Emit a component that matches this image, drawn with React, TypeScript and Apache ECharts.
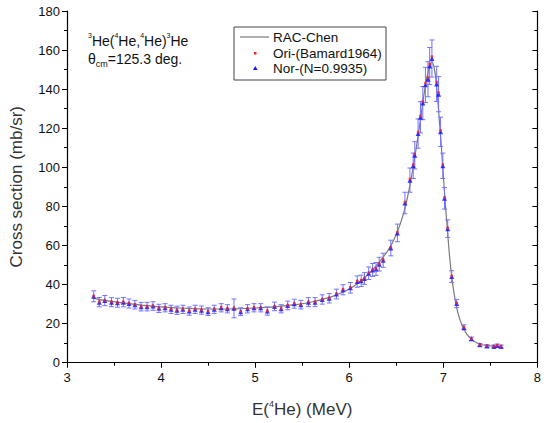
import React, { useEffect, useRef } from "react";
import * as echarts from "echarts";

// Measured points (E in MeV, cross section in mb/sr)
const energy = [
  3.284, 3.343, 3.402, 3.473, 3.536, 3.599, 3.659, 3.722, 3.788, 3.851,
  3.914, 3.977, 4.043, 4.106, 4.169, 4.232, 4.299, 4.362, 4.429, 4.499,
  4.565, 4.639, 4.705, 4.775, 4.846, 4.919, 4.988, 5.059, 5.129, 5.206,
  5.276, 5.346, 5.416, 5.486, 5.566, 5.637, 5.713, 5.787, 5.864, 5.934,
  6.012, 6.085, 6.127, 6.162, 6.207, 6.249, 6.285, 6.319, 6.361, 6.442,
  6.512, 6.592, 6.645, 6.68, 6.697, 6.732, 6.757, 6.782, 6.81, 6.837,
  6.855, 6.879, 6.929, 6.95, 6.971, 6.995, 7.013, 7.047, 7.089, 7.142,
  7.219, 7.299, 7.388, 7.464, 7.538, 7.573, 7.614,
];
const oriValues = [
  34.1, 31.1, 31.9, 31.1, 30.8, 31.1, 30.4, 29.8, 28.8, 28.8,
  29.1, 27.9, 28.2, 27.4, 26.9, 27.4, 26.5, 27.4, 27.0, 26.2,
  27.4, 28.2, 27.7, 27.9, 26.2, 27.7, 28.2, 28.2, 26.5, 28.9,
  27.7, 29.4, 30.3, 29.8, 31.1, 31.1, 32.5, 33.1, 35.3, 37.5,
  38.5, 41.7, 42.1, 43.3, 46.0, 47.7, 48.2, 50.7, 52.7, 59.0,
  66.8, 82.2, 94.0, 101.4, 106.8, 118.0, 126.4, 133.7, 143.1, 146.0,
  152.8, 156.7, 143.6, 138.3, 118.9, 101.4, 84.6, 69.0, 44.3, 30.4,
  18.1, 12.2, 9.1, 8.5, 8.3, 8.8, 8.3,
];
const errValues = [
  2.8, 2.4, 2.6, 2.3, 2.3, 2.4, 2.3, 2.2, 2.2, 2.2,
  2.2, 2.1, 2.1, 2.1, 2.1, 2.1, 2.1, 2.1, 2.1, 2.0,
  2.1, 2.1, 2.1, 4.8, 2.0, 2.1, 2.1, 2.1, 2.1, 2.2,
  2.1, 2.2, 2.3, 2.2, 2.3, 2.3, 2.4, 2.4, 2.5, 2.6,
  2.7, 2.9, 2.9, 3.0, 3.2, 3.3, 3.3, 3.5, 3.6, 4.0,
  4.5, 5.5, 6.2, 6.5, 7.0, 7.5, 8.0, 8.5, 9.0, 9.0,
  9.5, 9.5, 9.0, 9.0, 7.5, 6.5, 5.5, 4.5, 3.0, 2.1,
  1.3, 0.9, 0.7, 0.7, 0.7, 0.7, 0.7,
];
const normFactor = 0.9935;

// RAC-Chen calculation
const curveEnergy = [
  3.28, 3.4, 3.6, 3.8, 4.0, 4.2, 4.4, 4.6, 4.8, 5.0, 5.2, 5.4, 5.6, 5.8, 5.9,
  6.0, 6.1, 6.2, 6.3, 6.4, 6.45, 6.5, 6.55, 6.6, 6.65, 6.7, 6.75, 6.8, 6.83,
  6.86, 6.88, 6.9, 6.92, 6.94, 6.96, 6.98, 7.0, 7.02, 7.04, 7.06, 7.08, 7.1,
  7.13, 7.16, 7.2, 7.25, 7.3, 7.35, 7.4, 7.5, 7.61,
];
const curveValues = [
  33, 31.8, 30.5, 29.4, 28.5, 27.9, 27.5, 27.4, 27.5, 27.9, 28.5, 29.5, 31, 33.5, 35.3,
  37.6, 40.8, 45, 50.3, 56.5, 60.5, 65.5, 72, 80.5, 92, 106, 122, 139, 147,
  152.5, 154, 151.5, 145.5, 135.5, 122.5, 110, 96, 82, 70, 58, 48, 40,
  31, 24.5, 19, 14.5, 11.8, 10.2, 9.2, 8.5, 8.2,
];

const xTicks = { min: 3, max: 8, interval: 1 };
const yTicks = { min: 0, max: 180, interval: 20 };

const FONT = "Arial, 'Liberation Sans', sans-serif";

export default function App() {
  const ref = useRef<HTMLDivElement>(null);
  useEffect(() => {
    document.body.style.margin = "0";
    const chart = echarts.init(ref.current!, null, { renderer: "svg" });
    const nor = oriValues.map((v) => +(v * normFactor).toFixed(2));
    const errData = energy.map((e, i) => [e, nor[i] - errValues[i], nor[i] + errValues[i]]);
    const axisCommon = {
      type: "value" as const,
      splitLine: { show: false },
      axisLine: { lineStyle: { color: "#000", width: 1.2 } },
      minorTick: { show: true, splitNumber: 2, length: 3, lineStyle: { color: "#000" } },
      minorSplitLine: { show: false },
    };
    chart.setOption({
      animation: false,
      grid: { left: 63.5, right: 3.7, top: 11, bottom: 59.5 },
      xAxis: [
        {
          ...axisCommon,
          ...xTicks,
          position: "bottom",
          axisTick: { length: 5, lineStyle: { color: "#000" } },
          axisLabel: { color: "#111", fontSize: 13, fontFamily: FONT, margin: 8 },
          name: "{a|E(}{s|4}{a|He) (MeV)}",
          nameLocation: "middle",
          nameGap: 37,
          nameTextStyle: {
            rich: {
              a: { fontSize: 17, fontFamily: FONT, color: "#333", lineHeight: 20 },
              s: { fontSize: 9, fontFamily: FONT, color: "#333", verticalAlign: "top", lineHeight: 20 },
            },
          },
        },
        {
          ...axisCommon,
          ...xTicks,
          position: "top",
          axisTick: { inside: true, length: 5, lineStyle: { color: "#000" } },
          minorTick: { show: true, splitNumber: 2, length: 3, lineStyle: { color: "#000" } },
          axisLabel: { show: false },
        },
      ],
      yAxis: [
        {
          ...axisCommon,
          ...yTicks,
          position: "left",
          axisTick: { length: 5, lineStyle: { color: "#000" } },
          axisLabel: { color: "#111", fontSize: 13, fontFamily: FONT, margin: 7 },
          name: "Cross section (mb/sr)",
          nameLocation: "middle",
          nameGap: 42,
          nameTextStyle: { fontSize: 17, fontFamily: FONT, color: "#333" },
        },
        {
          ...axisCommon,
          ...yTicks,
          position: "right",
          axisTick: { inside: true, length: 5, lineStyle: { color: "#000" } },
          axisLabel: { show: false },
        },
      ],
      series: [
        {
          name: "RAC-Chen",
          type: "line",
          data: curveEnergy.map((e, i) => [e, curveValues[i]]),
          smooth: 0.3,
          showSymbol: false,
          lineStyle: { color: "#7a7a7a", width: 1.2 },
          z: 2,
        },
        {
          name: "err",
          type: "custom",
          data: errData,
          encode: { x: 0, y: [1, 2] },
          z: 3,
          renderItem: (_params: any, api: any) => {
            const x = api.value(0);
            const lo = api.coord([x, api.value(1)]);
            const hi = api.coord([x, api.value(2)]);
            const w = 2.5;
            const style = { stroke: "#7373ff", lineWidth: 1 };
            return {
              type: "group",
              children: [
                { type: "line", shape: { x1: lo[0], y1: lo[1], x2: hi[0], y2: hi[1] }, style },
                { type: "line", shape: { x1: lo[0] - w, y1: lo[1], x2: lo[0] + w, y2: lo[1] }, style },
                { type: "line", shape: { x1: hi[0] - w, y1: hi[1], x2: hi[0] + w, y2: hi[1] }, style },
              ],
            };
          },
        },
        {
          name: "Nor-(N=0.9935)",
          type: "scatter",
          data: energy.map((e, i) => [e, nor[i]]),
          symbol: "triangle",
          symbolSize: 5,
          itemStyle: { color: "#1010ff" },
          z: 4,
        },
        {
          name: "Ori-(Bamard1964)",
          type: "scatter",
          data: energy.map((e, i) => [e, oriValues[i]]),
          symbol: "rect",
          symbolSize: 2.5,
          itemStyle: { color: "#ff2020" },
          z: 5,
        },
      ],
      graphic: [
        {
          type: "text",
          left: 88,
          top: 32,
          style: {
            text: "{s|3}{a|He(}{s|4}{a|He,}{s|4}{a|He)}{s|3}{a|He}\n{a|θ}{b|cm}{a|=125.3 deg.}",
            rich: {
              a: { fontSize: 14, fontFamily: FONT, fill: "#111", lineHeight: 18 },
              s: { fontSize: 7, fontFamily: FONT, fill: "#111", verticalAlign: "top", lineHeight: 18 },
              b: { fontSize: 9, fontFamily: FONT, fill: "#111", verticalAlign: "bottom", lineHeight: 18 },
            },
          },
        },
        {
          type: "rect",
          shape: { x: 234, y: 27, width: 152, height: 53 },
          style: { fill: "#fff", stroke: "#444", lineWidth: 1 },
          z: 10,
        },
        {
          type: "line",
          shape: { x1: 240, y1: 37, x2: 269, y2: 37 },
          style: { stroke: "#7a7a7a", lineWidth: 1.2 },
          z: 11,
        },
        {
          type: "rect",
          shape: { x: 254, y: 52, width: 2.5, height: 2.5 },
          style: { fill: "#ff2020" },
          z: 11,
        },
        {
          type: "polygon",
          shape: { points: [[255.3, 66], [253, 70], [257.6, 70]] },
          style: { fill: "#1010ff" },
          z: 11,
        },
        {
          type: "text",
          x: 273,
          y: 37,
          style: { text: "RAC-Chen", fontSize: 13.5, fontFamily: FONT, fill: "#111", verticalAlign: "middle" },
          z: 11,
        },
        {
          type: "text",
          x: 273,
          y: 53,
          style: { text: "Ori-(Bamard1964)", fontSize: 13.5, fontFamily: FONT, fill: "#111", verticalAlign: "middle" },
          z: 11,
        },
        {
          type: "text",
          x: 273,
          y: 68,
          style: { text: "Nor-(N=0.9935)", fontSize: 13.5, fontFamily: FONT, fill: "#111", verticalAlign: "middle" },
          z: 11,
        },
      ],
    });
    return () => chart.dispose();
  }, []);
  return <div ref={ref} style={{ width: 544, height: 423 }} />;
}
